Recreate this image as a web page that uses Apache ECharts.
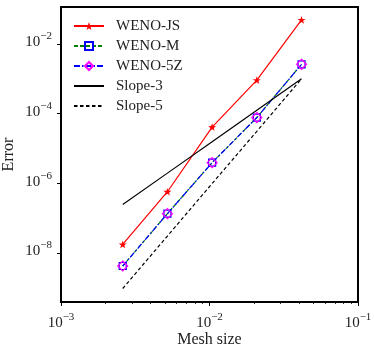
<!DOCTYPE html>
<html>
<head>
<meta charset="utf-8">
<script src="https://cdn.jsdelivr.net/npm/echarts@6/dist/echarts.min.js"></script>
<style>
  html, body { margin: 0; padding: 0; background: #fff; }
  #chart { width: 374px; height: 347px; }
</style>
</head>
<body>
<div id="chart"></div>
<script>
// mesh size h and errors
const meshSize = [0.0026042, 0.0052083, 0.0104167, 0.0208333, 0.0416667];
const wenoJS = [1.75e-8, 5.7e-7, 4.1e-5, 9.1e-4, 4.9e-2];
const wenoM = [4.2e-9, 1.34e-7, 3.9e-6, 7.7e-5, 2.6e-3];
const weno5Z = [4.2e-9, 1.34e-7, 3.9e-6, 7.7e-5, 2.6e-3];
const slope3 = [2.44e-7, 1.95e-6, 1.56e-5, 1.25e-4, 1.0e-3];
const slope5 = [9.5e-10, 3.05e-8, 9.8e-7, 3.1e-5, 1.0e-3];

// decade exponents for ticks
const xMajorExp = [-3, -2, -1];
const xMinorMult = [2, 3, 4, 5, 6, 7, 8, 9];
const yMajorExp = [-8, -6, -4, -2];

const FONT = '"Liberation Serif", "Times New Roman", serif';
const STAR = 'path://M0,-10 L2.35,-3.24 L9.51,-3.09 L3.8,1.24 L5.88,8.09 L0,4 L-5.88,8.09 L-3.8,1.24 L-9.51,-3.09 L-2.35,-3.24 Z';

function toLog(xs, ys) {
  return xs.map((x, i) => [Math.log10(x), Math.log10(ys[i])]);
}

const xMinor = [];
[-3, -2].forEach(e => xMinorMult.forEach(m => xMinor.push(Math.log10(m) + e)));

function powLabel(v) {
  const e = Math.round(v);
  return '{b|10}{s|\u2212' + Math.abs(e) + '}';
}
const richPow = {
  b: { fontFamily: FONT, fontSize: 15, lineHeight: 22, color: '#222' },
  s: { fontFamily: FONT, fontSize: 11, lineHeight: 10, padding: [0, 0, 12, 0], color: '#222' }
};

const chart = echarts.init(document.getElementById('chart'), null, { renderer: 'canvas' });

const option = {
  animation: false,
  backgroundColor: '#fff',
  grid: {
    left: 61, right: 16, top: 7, bottom: 45,
    outerBoundsMode: 'none',
    containLabel: false,
    show: true, borderColor: '#000', borderWidth: 2, backgroundColor: 'transparent'
  },
  legend: {
    orient: 'vertical',
    left: 73,
    top: 18,
    padding: 0,
    itemWidth: 30,
    itemHeight: 10,
    itemGap: 4,
    textStyle: { fontFamily: FONT, fontSize: 15, lineHeight: 16, color: '#222', padding: [0, 0, 0, 7] },
    data: [
      'WENO-JS', 'WENO-M', 'WENO-5Z',
      { name: 'Slope-3', itemStyle: { opacity: 0 } },
      { name: 'Slope-5', itemStyle: { opacity: 0 } }
    ]
  },
  xAxis: [
    {
      type: 'value',
      min: -3, max: -1,
      position: 'bottom',
      name: 'Mesh size',
      nameLocation: 'middle',
      nameGap: 30,
      nameMoveOverlap: false,
      nameTextStyle: { fontFamily: FONT, fontSize: 16, color: '#222' },
      axisLine: { show: true, lineStyle: { color: '#000', width: 2 } },
      axisTick: { show: true, length: 4, customValues: xMajorExp, lineStyle: { color: '#000', width: 1 } },
      axisLabel: { customValues: xMajorExp, margin: 10, formatter: powLabel, rich: richPow },
      splitLine: { show: false }
    },
    {
      type: 'value',
      min: -3, max: -1,
      position: 'bottom',
      axisLine: { show: false },
      axisTick: { show: true, length: 2, customValues: xMinor, lineStyle: { color: '#000', width: 0.8 } },
      axisLabel: { show: false },
      splitLine: { show: false }
    }
  ],
  yAxis: {
    type: 'value',
    min: -9.41, max: -0.94,
    name: 'Error',
    nameLocation: 'middle',
    nameGap: 44,
    nameMoveOverlap: false,
    nameTextStyle: { fontFamily: FONT, fontSize: 16, color: '#222' },
    axisLine: { show: true, lineStyle: { color: '#000', width: 2 } },
    axisTick: { show: true, length: 4, customValues: yMajorExp, lineStyle: { color: '#000', width: 1 } },
    axisLabel: { customValues: yMajorExp, margin: 9, formatter: powLabel, rich: richPow, padding: [0, 0, 3, 0] },
    splitLine: { show: false }
  },
  series: [
    {
      name: 'WENO-JS', type: 'line', data: toLog(meshSize, wenoJS),
      symbol: STAR, symbolSize: 8, symbolKeepAspect: true,
      lineStyle: { color: '#ff0000', width: 1.2 },
      itemStyle: { color: '#ff0000' }
    },
    {
      name: 'WENO-M', type: 'line', data: toLog(meshSize, wenoM),
      symbol: 'rect', symbolSize: 7,
      lineStyle: { color: '#008000', width: 1.2, type: [4, 2] },
      itemStyle: { color: 'rgba(255,255,255,0)', borderColor: '#0000ff', borderWidth: 1.2 }
    },
    {
      name: 'WENO-5Z', type: 'line', data: toLog(meshSize, weno5Z),
      symbol: 'diamond', symbolSize: 10,
      lineStyle: { color: '#0000ff', width: 1.2, type: [6, 2, 1.5, 2] },
      itemStyle: { color: 'rgba(255,255,255,0)', borderColor: '#ff00ff', borderWidth: 1.2 }
    },
    {
      name: 'Slope-3', type: 'line', data: toLog(meshSize, slope3),
      symbol: 'none',
      lineStyle: { color: '#000', width: 1.2 },
      itemStyle: { color: '#000' }
    },
    {
      name: 'Slope-5', type: 'line', data: toLog(meshSize, slope5),
      symbol: 'none',
      lineStyle: { color: '#000', width: 1.2, type: [3.5, 2.5] },
      itemStyle: { color: '#000' }
    }
  ]
};

chart.setOption(option);
window.addEventListener('resize', () => chart.resize());
</script>
</body>
</html>
